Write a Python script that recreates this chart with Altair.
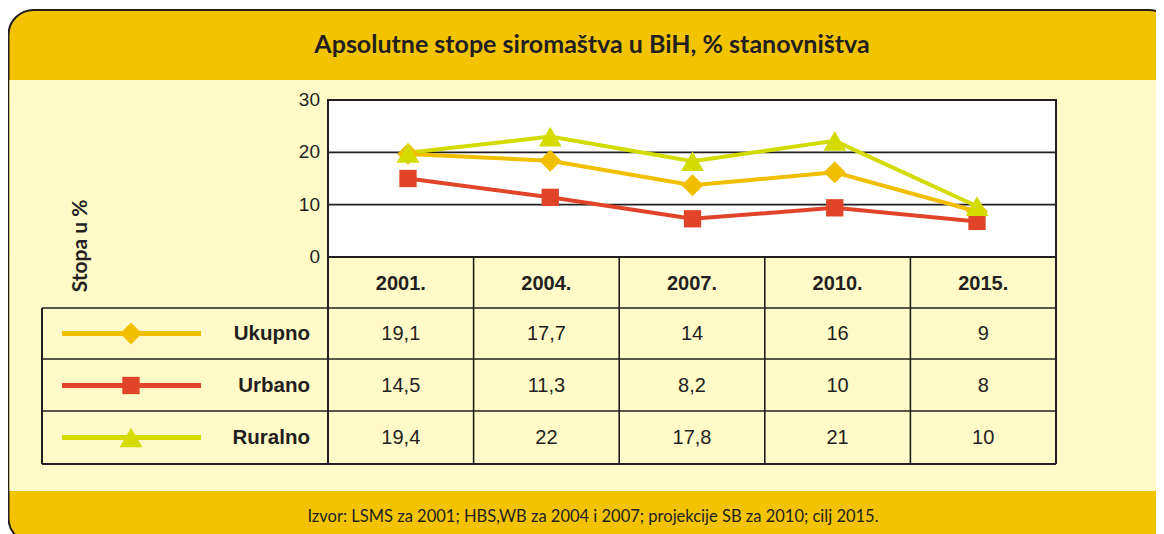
import altair as alt
import pandas as pd

# ---------------- data ----------------
years = ["2001.", "2004.", "2007.", "2010.", "2015."]
series = ["Ukupno", "Urbano", "Ruralno"]
# values as plotted in the picture
ukupno = [19.7, 18.4, 13.7, 16.2, 8.7]
urbano = [15.0, 11.4, 7.3, 9.4, 6.8]
ruralno = [19.9, 23.0, 18.3, 22.2, 9.7]
# values printed in the table
ukupno_tab = ["19,1", "17,7", "14", "16", "9"]
urbano_tab = ["14,5", "11,3", "8,2", "10", "8"]
ruralno_tab = ["19,4", "22", "17,8", "21", "10"]
y_ticks = [0, 10, 20, 30]

title_txt = "Apsolutne stope siromaštva u BiH, % stanovništva"
y_title_txt = "Stopa u %"
source_txt = "Izvor: LSMS za 2001; HBS,WB za 2004 i 2007; projekcije SB za 2010; cilj 2015."

# ---------------- styles ----------------
colors = ["#F2BE00", "#E0452A", "#D4DB00"]
shapes = ["diamond", "square", "triangle-up"]
sizes = [480, 300, 520]
YELLOW = "#F3C300"
CREAM = "#FFFAC8"
INK = "#231F20"

W, H = 1148, 526


def P(v):
    # page pixel -> chart pixel (page has 8px margin)
    return v - 8


PLOT_L, PLOT_R, PLOT_T, PLOT_B = 328, 1056, 100, 257
TABLE_L = 42
ROW_EDGES = [257, 308, 359, 411, 464]
COL_W = (PLOT_R - PLOT_L) / 5
COL_EDGES = [PLOT_L + i * COL_W for i in range(6)]

# ---------------- tables ----------------
line_df = pd.DataFrame(
    [(y, s, v) for s, vals in zip(series, [ukupno, urbano, ruralno]) for y, v in zip(years, vals)],
    columns=["year", "series", "value"],
)
tab_df = pd.DataFrame(
    [(y, s, t) for s, vals in zip(series, [ukupno_tab, urbano_tab, ruralno_tab]) for y, t in zip(years, vals)],
    columns=["year", "series", "label"],
)
year_df = pd.DataFrame({"year": years})
series_df = pd.DataFrame({"series": series})
tick_df = pd.DataFrame({"tick": y_ticks})

color_scale = alt.Scale(domain=series, range=colors)
shape_scale = alt.Scale(domain=series, range=shapes)
size_scale = alt.Scale(type="ordinal", domain=series, range=sizes)
val_scale = alt.Scale(domain=[0, 30], range=[P(PLOT_B), P(PLOT_T)], zero=False, nice=False)
line_x_scale = alt.Scale(type="point", domain=years, range=[P(408), P(977)], padding=0)
col_x_scale = alt.Scale(type="point", domain=years,
                        range=[P(PLOT_L + COL_W / 2), P(PLOT_R - COL_W / 2)], padding=0)
row_y_scale = alt.Scale(type="point", domain=series,
                        range=[P((ROW_EDGES[1] + ROW_EDGES[2]) / 2), P((ROW_EDGES[3] + ROW_EDGES[4]) / 2)],
                        padding=0)

one = pd.DataFrame({"k": [0]})

layers = []

# frame (yellow, rounded) and cream body
layers.append(
    alt.Chart(one).mark_rect(fill=YELLOW, stroke=INK, strokeWidth=2, cornerRadius=25).encode(
        x=alt.value(0.5), x2=alt.value(P(1174)), y=alt.value(P(10)), y2=alt.value(P(543))
    )
)
layers.append(
    alt.Chart(one).mark_rect(fill=CREAM).encode(
        x=alt.value(1.5), x2=alt.value(P(1172)), y=alt.value(P(80)), y2=alt.value(P(491))
    )
)
# plot area
layers.append(
    alt.Chart(one).mark_rect(fill="white", stroke=INK, strokeWidth=2).encode(
        x=alt.value(P(PLOT_L)), x2=alt.value(P(PLOT_R)), y=alt.value(P(PLOT_T)), y2=alt.value(P(PLOT_B))
    )
)
# gridlines
layers.append(
    alt.Chart(tick_df).mark_rule(color=INK, strokeWidth=1.8).encode(
        y=alt.Y("tick:Q", scale=val_scale, axis=None),
        x=alt.value(P(PLOT_L)), x2=alt.value(P(PLOT_R)),
    )
)
# y tick labels
layers.append(
    alt.Chart(tick_df).mark_text(align="right", baseline="middle", fontSize=19,
                                 font="Liberation Sans", color=INK).encode(
        y=alt.Y("tick:Q", scale=val_scale, axis=None),
        x=alt.value(P(320)),
        text="tick:Q",
    )
)
# table grid: horizontal lines
for i, yy in enumerate(ROW_EDGES):
    left = PLOT_L if i == 0 else TABLE_L
    layers.append(
        alt.Chart(one).mark_rule(color=INK, strokeWidth=2 if i in (0, 4) else 1.6).encode(
            x=alt.value(P(left)), x2=alt.value(P(PLOT_R)), y=alt.value(P(yy)), y2=alt.value(P(yy))
        )
    )
# vertical lines
for i, xx in enumerate(COL_EDGES):
    layers.append(
        alt.Chart(one).mark_rule(color=INK, strokeWidth=2 if i in (0, 5) else 1.6).encode(
            x=alt.value(P(xx)), x2=alt.value(P(xx)), y=alt.value(P(PLOT_B)), y2=alt.value(P(ROW_EDGES[-1]))
        )
    )
layers.append(
    alt.Chart(one).mark_rule(color=INK, strokeWidth=2).encode(
        x=alt.value(P(TABLE_L)), x2=alt.value(P(TABLE_L)), y=alt.value(P(ROW_EDGES[1])), y2=alt.value(P(ROW_EDGES[-1]))
    )
)
# header
layers.append(
    alt.Chart(year_df).mark_text(fontSize=20, fontWeight="bold", font="Liberation Sans",
                                 color=INK, baseline="middle").encode(
        x=alt.X("year:N", scale=col_x_scale, axis=None),
        y=alt.value(P((ROW_EDGES[0] + ROW_EDGES[1]) / 2 + 1)),
        text="year:N",
    )
)
# table values
layers.append(
    alt.Chart(tab_df).mark_text(fontSize=20, font="Liberation Sans", color=INK, baseline="middle").encode(
        x=alt.X("year:N", scale=col_x_scale, axis=None),
        y=alt.Y("series:N", scale=row_y_scale, axis=None),
        text="label:N",
    )
)
# legend samples
layers.append(
    alt.Chart(series_df).mark_rule(strokeWidth=5).encode(
        y=alt.Y("series:N", scale=row_y_scale, axis=None),
        x=alt.value(P(62)), x2=alt.value(P(201)),
        color=alt.Color("series:N", scale=color_scale, legend=None),
    )
)
layers.append(
    alt.Chart(series_df).mark_point(filled=True, opacity=1).encode(
        y=alt.Y("series:N", scale=row_y_scale, axis=None),
        x=alt.value(P(131)),
        color=alt.Color("series:N", scale=color_scale, legend=None),
        shape=alt.Shape("series:N", scale=shape_scale, legend=None),
        size=alt.Size("series:N", scale=size_scale, legend=None),
    )
)
layers.append(
    alt.Chart(series_df).mark_text(align="right", baseline="middle", fontSize=20.5, fontWeight="bold",
                                   font="Liberation Sans", color=INK).encode(
        y=alt.Y("series:N", scale=row_y_scale, axis=None),
        x=alt.value(P(310)),
        text="series:N",
    )
)
# lines and markers
layers.append(
    alt.Chart(line_df).mark_line(strokeWidth=4).encode(
        x=alt.X("year:N", scale=line_x_scale, axis=None, sort=years),
        y=alt.Y("value:Q", scale=val_scale, axis=None),
        color=alt.Color("series:N", scale=color_scale, legend=None),
        detail="series:N",
    )
)
layers.append(
    alt.Chart(line_df).mark_point(filled=True, opacity=1).encode(
        x=alt.X("year:N", scale=line_x_scale, axis=None, sort=years),
        y=alt.Y("value:Q", scale=val_scale, axis=None),
        color=alt.Color("series:N", scale=color_scale, legend=None),
        shape=alt.Shape("series:N", scale=shape_scale, legend=None),
        size=alt.Size("series:N", scale=size_scale, legend=None),
    )
)
# titles
layers.append(
    alt.Chart(pd.DataFrame({"t": [title_txt]})).mark_text(
        fontSize=25, fontWeight="bold", font="Lato", color=INK, baseline="middle").encode(
        x=alt.value(P(592)), y=alt.value(P(45)), text="t:N")
)
layers.append(
    alt.Chart(pd.DataFrame({"t": [y_title_txt]})).mark_text(
        fontSize=21, fontWeight="bold", font="Lato", color=INK, baseline="middle", angle=270).encode(
        x=alt.value(P(81)), y=alt.value(P(246)), text="t:N")
)
layers.append(
    alt.Chart(pd.DataFrame({"t": [source_txt]})).mark_text(
        fontSize=16.5, font="Lato", color=INK, baseline="middle").encode(
        x=alt.value(P(593)), y=alt.value(P(517)), text="t:N")
)

chart = alt.layer(*layers).resolve_scale(x="independent", y="independent").properties(
    width=W, height=H, padding=0, autosize=alt.AutoSizeParams(type="none"), background="white"
).configure_view(stroke=None)

chart.save("out.html", embed_options={"renderer": "svg", "actions": False})
